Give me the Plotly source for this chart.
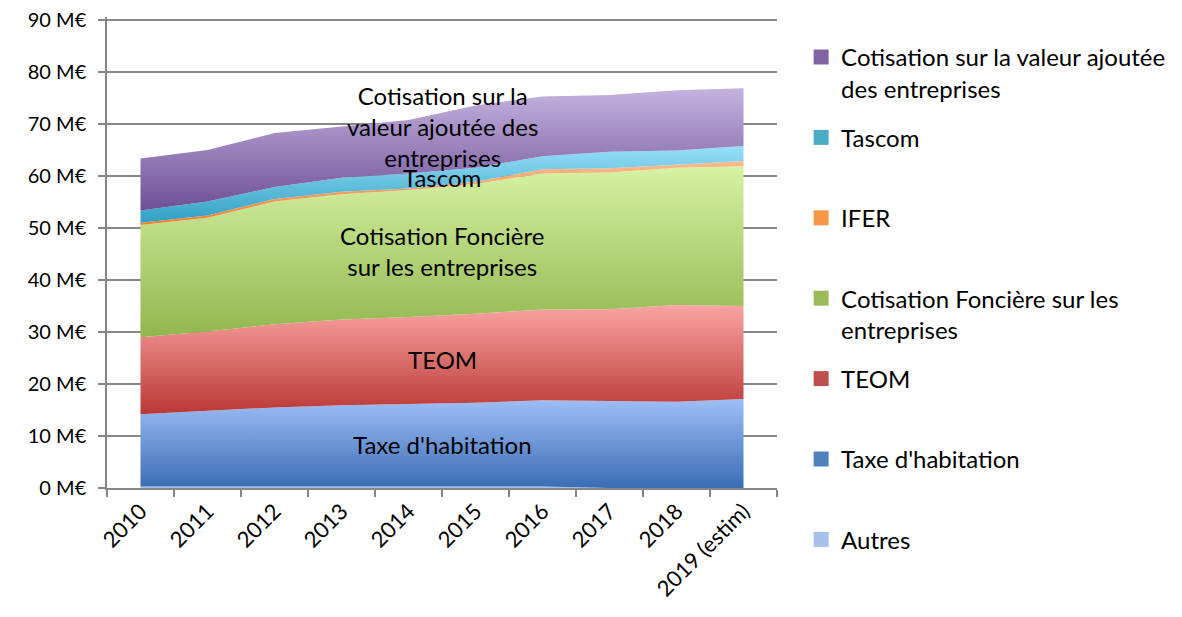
import plotly.graph_objects as go
import numpy as np

annees = ["2010", "2011", "2012", "2013", "2014", "2015", "2016", "2017", "2018", "2019 (estim)"]

# valeurs en M€ (empilées de bas en haut)
autres = [0.3, 0.3, 0.3, 0.3, 0.3, 0.3, 0.3, 0.0, 0.0, 0.0]
taxe_habitation = [13.9, 14.6, 15.2, 15.6, 15.85, 16.1, 16.6, 16.8, 16.6, 17.1]
teom = [14.8, 15.2, 16.0, 16.5, 16.75, 17.1, 17.45, 17.6, 18.6, 17.9]
cfe = [21.6, 21.9, 23.6, 24.1, 24.4, 25.0, 26.15, 26.3, 26.4, 26.9]
ifer = [0.4, 0.4, 0.5, 0.5, 0.3, 0.4, 0.8, 0.8, 0.6, 1.0]
tascom = [2.4, 2.7, 2.3, 2.7, 2.9, 2.7, 2.5, 3.2, 2.7, 2.9]
cvae = [10.0, 9.9, 10.4, 9.8, 10.3, 12.0, 11.5, 10.9, 11.6, 11.1]

series = [
    ("Autres", autres, "#98B4E4", "#BCD0F3", "#A7C0EC"),
    ("Taxe d'habitation", taxe_habitation, "#3A6DB5", "#9EBEF6", "#4F81BD"),
    ("TEOM", teom, "#B93835", "#FAA4A3", "#C0504D"),
    ("Cotisation Foncière sur les entreprises", cfe, "#91B64D", "#D6F2A4", "#9BBB59"),
    ("IFER", ifer, "#F07E2A", "#FDBC8F", "#F79646"),
    ("Tascom", tascom, "#30A0C2", "#97DFF9", "#4BACC6"),
    ("Cotisation sur la valeur ajoutée des entreprises", cvae, "#6E4F97", "#C4B3DF", "#8064A2"),
]

legend_labels = {
    "Autres": "Autres<br>&nbsp;",
    "Taxe d'habitation": "Taxe d'habitation<br>&nbsp;",
    "TEOM": "TEOM<br>&nbsp;",
    "Cotisation Foncière sur les entreprises": "Cotisation Foncière sur les<br>entreprises",
    "IFER": "IFER<br>&nbsp;",
    "Tascom": "Tascom<br>&nbsp;",
    "Cotisation sur la valeur ajoutée des entreprises": "Cotisation sur la valeur ajoutée<br>des entreprises",
}

fig = go.Figure()

bas = np.zeros(len(annees))
bornes = {}
for nom, vals, c_bas, c_haut, c_leg in series:
    haut = bas + np.array(vals)
    bornes[nom] = (bas.copy(), haut.copy())
    fig.add_trace(go.Scatter(
        x=annees, y=vals, name=nom, stackgroup="one", mode="lines",
        line=dict(width=0), showlegend=False, hoverinfo="skip",
        fillgradient=dict(type="vertical", start=float(bas.min()), stop=float(haut.max()),
                          colorscale=[[0, c_bas], [1, c_haut]]),
    ))
    bas = haut

# légende (ordre inversé comme dans Excel)
for nom, vals, c_bas, c_haut, c_leg in reversed(series):
    fig.add_trace(go.Scatter(
        x=[None], y=[None], mode="markers", name=legend_labels[nom],
        legendgroup=nom,
        marker=dict(symbol="square", size=15, color=c_leg),
    ))

# étiquettes dans les aires
etiquettes = [
    ("Taxe d'habitation", "Taxe d'habitation", 0),
    ("TEOM", "TEOM", 0),
    ("Cotisation Foncière sur les entreprises", "Cotisation Foncière<br>sur les entreprises", 0),
    ("Tascom", "Tascom", 0),
    ("Cotisation sur la valeur ajoutée des entreprises", "Cotisation sur la<br>valeur ajoutée des<br>entreprises", 15),
]
for nom, texte, dy in etiquettes:
    b, h = bornes[nom]
    ymid = ((b[4] + b[5]) / 2 + (h[4] + h[5]) / 2) / 2
    fig.add_annotation(x=4.5, y=ymid, text=texte, showarrow=False, yshift=dy,
                       font=dict(size=24, color="black", family="Lato"))

fig.update_layout(
    width=1182, height=617,
    margin=dict(l=99, r=413, t=9, b=137, autoexpand=False),
    paper_bgcolor="white", plot_bgcolor="white",
    font=dict(family="Lato", size=20, color="black"),
    legend=dict(x=1.036, y=0.962, xanchor="left", yanchor="top",
                tracegroupgap=15, valign="top", font=dict(size=24),
                itemwidth=30, maxheight=580),
)
fig.update_xaxes(
    type="category", range=[-0.5, 9.5], tickson="boundaries",
    ticks="outside", ticklen=7, tickcolor="#868686", tickwidth=1.5,
    showline=True, linecolor="#868686", linewidth=1.5,
    showgrid=False, tickangle=-45, tickfont=dict(size=22),
)
fig.update_yaxes(
    range=[0, 90.6], dtick=10, ticksuffix=" M€",
    ticks="outside", ticklen=7, tickcolor="#868686", tickwidth=1.5,
    showline=True, linecolor="#868686", linewidth=1.5,
    showgrid=True, gridcolor="#868686", gridwidth=1.5,
    zeroline=False, tickfont=dict(size=20), ticklabelstandoff=8,
    ticklabeloverflow="allow",
)

fig.write_html("out.html")
